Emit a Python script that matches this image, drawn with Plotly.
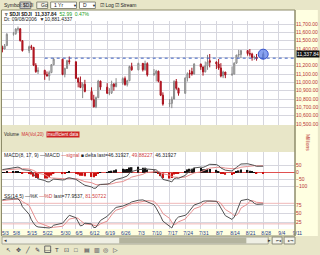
import plotly.graph_objects as go
from plotly.subplots import make_subplots

# ---------------- data ----------------
dates = [
    '2006-05-03', '2006-05-04', '2006-05-05',
    '2006-05-08', '2006-05-09', '2006-05-10', '2006-05-11', '2006-05-12',
    '2006-05-15', '2006-05-16', '2006-05-17', '2006-05-18', '2006-05-19',
    '2006-05-22', '2006-05-23', '2006-05-24', '2006-05-25', '2006-05-26',
    '2006-05-30', '2006-05-31', '2006-06-01', '2006-06-02',
    '2006-06-05', '2006-06-06', '2006-06-07', '2006-06-08', '2006-06-09',
    '2006-06-12', '2006-06-13', '2006-06-14', '2006-06-15', '2006-06-16',
    '2006-06-19', '2006-06-20', '2006-06-21', '2006-06-22', '2006-06-23',
    '2006-06-26', '2006-06-27', '2006-06-28', '2006-06-29', '2006-06-30',
    '2006-07-03', '2006-07-05', '2006-07-06', '2006-07-07',
    '2006-07-10', '2006-07-11', '2006-07-12', '2006-07-13', '2006-07-14',
    '2006-07-17', '2006-07-18', '2006-07-19', '2006-07-20', '2006-07-21',
    '2006-07-24', '2006-07-25', '2006-07-26', '2006-07-27', '2006-07-28',
    '2006-07-31', '2006-08-01', '2006-08-02', '2006-08-03', '2006-08-04',
    '2006-08-07', '2006-08-08', '2006-08-09', '2006-08-10', '2006-08-11',
    '2006-08-14', '2006-08-15', '2006-08-16', '2006-08-17', '2006-08-18',
    '2006-08-21', '2006-08-22', '2006-08-23', '2006-08-24', '2006-08-25',
    '2006-08-28']

opens = [11416, 11400, 11440, 11577, 11584, 11640, 11642, 11500, 11380, 11428,
         11419, 11205, 11128, 11144, 11094, 11076, 11117, 11211, 11278, 11094,
         11168, 11260, 11247, 11048, 11002, 10939, 10977, 10891, 10792, 10706,
         10816, 11015, 10942, 10869, 10874, 10979, 10949, 10990, 11045, 10973,
         11019, 11190, 11150, 11228, 11151, 11225, 11090, 11103, 11134, 11013,
         10846, 10739, 10747, 10799, 11011, 10928, 10868, 11051, 11110, 11130,
         11100, 11219, 11185, 11125, 11199, 11260, 11245, 11220, 11173, 11076,
         11124, 11088, 11098, 11230, 11327, 11334, 11381, 11345, 11339, 11297,
         11304, 11284]
highs = [11440, 11460, 11590, 11605, 11650, 11670, 11650, 11505, 11440, 11450,
         11425, 11230, 11180, 11150, 11130, 11140, 11220, 11290, 11280, 11175,
         11270, 11310, 11250, 11060, 11070, 11000, 11030, 10940, 10850, 10830,
         11030, 11020, 10990, 10930, 11020, 10990, 11050, 11060, 11070, 11030,
         11200, 11235, 11235, 11230, 11260, 11240, 11160, 11150, 11140, 11015,
         10880, 10800, 10830, 11025, 11040, 10935, 11060, 11120, 11150, 11175,
         11230, 11225, 11190, 11250, 11330, 11340, 11250, 11280, 11230, 11140,
         11125, 11190, 11240, 11330, 11390, 11385, 11385, 11400, 11355, 11320,
         11340, 11360]
lows = [11360, 11395, 11440, 11560, 11570, 11610, 11490, 11370, 11350, 11390,
        11195, 11115, 11100, 11030, 11070, 11020, 11110, 11205, 11085, 11060,
        11160, 11215, 11040, 10940, 10930, 10810, 10880, 10785, 10700, 10690,
        10810, 10910, 10860, 10845, 10860, 10900, 10940, 10970, 10960, 10950,
        11015, 11140, 11145, 11130, 11140, 11070, 11080, 11010, 11000, 10835,
        10720, 10700, 10690, 10795, 10910, 10840, 10865, 11010, 11050, 11080,
        11095, 11150, 11080, 11120, 11150, 11180, 11160, 11150, 11060, 11050,
        11050, 11080, 11098, 11225, 11300, 11290, 11320, 11310, 11260, 11270,
        11260, 11275]
closes = [11400, 11438, 11577, 11584, 11640, 11642, 11500, 11380, 11428, 11419,
          11205, 11128, 11144, 11094, 11076, 11117, 11211, 11278, 11094, 11168,
          11260, 11247, 11048, 11002, 10939, 10977, 10891, 10792, 10706, 10816,
          11015, 10942, 10869, 10874, 10979, 10949, 10990, 11045, 10973, 11019,
          11190, 11150, 11228, 11151, 11225, 11090, 11103, 11134, 11013, 10846,
          10739, 10747, 10799, 11011, 10928, 10868, 11051, 11103, 11102, 11100,
          11219, 11185, 11125, 11199, 11242, 11240, 11220, 11173, 11076, 11124,
          11088, 11098, 11230, 11327, 11334, 11381, 11345, 11339, 11297, 11304,
          11284, 11337.84]

macd = [22, 24, 30, 33, 38, 40, 34, 22, 16, 10,
        -12, -32, -44, -56, -65, -66, -58, -46, -52, -50,
        -40, -36, -48, -60, -74, -80, -90, -102, -112, -110,
        -90, -84, -82, -78, -66, -58, -48, -36, -32, -24,
        -4, 8, 22, 24, 32, 26, 22, 20, 6, -22,
        -48, -60, -66, -44, -38, -40, -20, -2, 10, 18,
        34, 40, 38, 44, 54, 60, 58, 50, 34, 28,
        18, 12, 22, 38, 50, 62, 64, 62, 56, 52,
        46, 46.32]
signal = [18.8, 19.8, 21.9, 24.1, 26.9, 29.5, 30.4, 28.7, 26.2, 22.9,
          16.0, 6.4, -3.7, -14.2, -24.3, -32.7, -37.7, -39.4, -41.9, -43.5,
          -42.8, -41.5, -42.8, -46.2, -51.8, -57.4, -63.9, -71.5, -79.6, -85.7,
          -86.6, -86.1, -85.3, -83.8, -80.2, -75.8, -70.3, -63.4, -57.1, -50.5,
          -41.2, -31.4, -20.7, -11.8, -3.0, 2.8, 6.6, 9.3, 8.6, 2.5,
          -7.6, -18.1, -27.7, -31.0, -32.4, -33.9, -31.1, -25.3, -18.2, -11.0,
          -2.0, 6.4, 12.7, 19.0, 26.0, 32.8, 37.8, 40.3, 39.0, 36.8,
          33.0, 28.8, 27.5, 29.6, 33.7, 39.3, 44.3, 47.8, 49.5, 50.0,
          49.2, 49.88]
delta = [3.2, 4.2, 8.1, 8.9, 11.1, 10.5, 3.6, -6.7, -10.2, -12.9,
         -28.0, -38.4, -40.3, -41.8, -40.7, -33.3, -20.3, -6.6, -10.1, -6.5,
         2.8, 5.5, -5.2, -13.8, -22.2, -22.6, -26.1, -30.5, -32.4, -24.3,
         -3.4, 2.1, 3.3, 5.8, 14.2, 17.8, 22.3, 27.4, 25.1, 26.5,
         37.2, 39.4, 42.7, 35.8, 35.0, 23.2, 15.4, 10.7, -2.6, -24.5,
         -40.4, -41.9, -38.3, -13.0, -5.6, -6.1, 11.1, 23.3, 28.2, 29.0,
         36.0, 33.6, 25.3, 25.0, 28.0, 27.2, 20.2, 9.7, -5.0, -8.8,
         -15.0, -16.8, -5.5, 8.4, 16.3, 22.7, 19.7, 14.2, 6.5, 2.0,
         -3.2, -3.56]

stoch_k = [90, 91, 93, 93, 94, 93, 86, 70, 48, 32,
           22, 14, 11, 10, 8, 8, 10, 16, 22, 30,
           38, 45, 38, 24, 14, 16, 22, 20, 9, 10,
           22, 30, 42, 50, 55, 62, 68, 72, 74, 76,
           80, 84, 89, 90, 87, 84, 76, 66, 56, 42,
           28, 12, 8, 22, 34, 40, 45, 50, 58, 66,
           75, 82, 86, 87, 87, 88, 86, 78, 66, 55,
           44, 33, 40, 55, 72, 88, 92, 90, 86, 80,
           77, 77.95]
stoch_d = [88, 89, 90, 91, 92, 93, 91, 85, 74, 60,
           46, 34, 24, 16, 12, 10, 9, 10, 13, 19,
           26, 34, 38, 36, 30, 24, 20, 18, 16, 14,
           15, 20, 28, 38, 46, 54, 60, 66, 70, 73,
           76, 79, 83, 86, 88, 88, 86, 80, 72, 62,
           50, 36, 24, 18, 20, 26, 34, 42, 48, 56,
           64, 71, 78, 83, 86, 87, 87, 85, 80, 72,
           62, 50, 44, 45, 52, 66, 78, 86, 88, 86,
           83, 81.51]

tick_dates = ['2006-05-03', '2006-05-08', '2006-05-15', '2006-05-22', '2006-05-30',
              '2006-06-05', '2006-06-12', '2006-06-19', '2006-06-26', '2006-07-03',
              '2006-07-10', '2006-07-17', '2006-07-24', '2006-07-31', '2006-08-07',
              '2006-08-14', '2006-08-21', '2006-08-28', '2006-09-04', '2006-09-11']
tick_labels = ['5/3', '5/8', '5/15', '5/22', '5/30', '6/5', '6/12', '6/19', '6/26', '7/3',
               '7/10', '7/17', '7/24', '7/31', '8/7', '8/14', '8/21', '8/28', '9/4', '9/11']

price_ticks = [10500, 10600, 10700, 10800, 10900, 11000, 11100, 11200, 11300,
               11400, 11500, 11600, 11700]
price_tick_labels = ['10,500.00', '10,600.00', '10,700.00', '10,800.00', '10,900.00',
                     '11,000.00', '11,100.00', '11,200.00', '', '11,400.00', '11,500.00',
                     '11,600.00', '11,700.00']
ref_level = 11290
ref_start = '2006-05-22'
ref_end = '2006-09-11'
volume_ticks = [0, 2.5]
macd_ticks = [-100, -50, 0, 50]
stoch_ticks = [25, 50, 75]
stoch_levels = [80, 20]

# ---------------- layout helpers ----------------
W, H = 320, 255
ML, MR, MT, MB = 2, 23, 21, 26
PW, PH = W - ML - MR, H - MT - MB


def px(x):
    return (x - ML) / PW


def py(y):
    return (H - MB - y) / PH


FONT = 'Liberation Sans'
AXIS_RED = '#b83232'

fig = make_subplots(rows=4, cols=1, shared_xaxes=True, vertical_spacing=0,
                    row_heights=[104, 27, 39, 38])

fig.add_trace(go.Candlestick(
    x=dates, open=opens, high=highs, low=lows, close=closes,
    increasing=dict(line=dict(color='#8a8a8a', width=1), fillcolor='#dcdcdc'),
    decreasing=dict(line=dict(color='#a8101c', width=1), fillcolor='#d0202c'),
    whiskerwidth=0, hoverinfo='skip', showlegend=False), row=1, col=1)

fig.add_trace(go.Scatter(
    x=[ref_start, ref_end], y=[ref_level, ref_level], mode='lines',
    line=dict(color='#3a5fc0', width=1, dash='dot'), hoverinfo='skip',
    showlegend=False), row=1, col=1)

fig.add_trace(go.Scatter(
    x=[dates[-1]], y=[closes[-1]], mode='markers',
    marker=dict(symbol='circle', size=10, color='rgba(70,110,230,0.65)',
                line=dict(color='rgba(40,70,200,0.9)', width=1)),
    hoverinfo='skip', showlegend=False), row=1, col=1)

fig.add_trace(go.Bar(
    x=dates, y=delta,
    marker=dict(color=['#111111' if v >= 0 else '#cc1010' for v in delta], line=dict(width=0)),
    hoverinfo='skip', showlegend=False), row=3, col=1)
fig.add_trace(go.Scatter(x=dates, y=signal, mode='lines',
                         line=dict(color='#e89090', width=1), hoverinfo='skip',
                         showlegend=False), row=3, col=1)
fig.add_trace(go.Scatter(x=dates, y=macd, mode='lines',
                         line=dict(color='#505050', width=1), hoverinfo='skip',
                         showlegend=False), row=3, col=1)

for lvl in stoch_levels:
    fig.add_trace(go.Scatter(x=[tick_dates[0], tick_dates[-1]], y=[lvl, lvl], mode='lines',
                             line=dict(color='#f0b8b8', width=1), hoverinfo='skip',
                             showlegend=False), row=4, col=1)
fig.add_trace(go.Scatter(x=dates, y=stoch_d, mode='lines',
                         line=dict(color='#e89090', width=1), hoverinfo='skip',
                         showlegend=False), row=4, col=1)
fig.add_trace(go.Scatter(x=dates, y=stoch_k, mode='lines',
                         line=dict(color='#505050', width=1), hoverinfo='skip',
                         showlegend=False), row=4, col=1)

xr = ['2006-05-02 20:00', '2006-09-11 06:00']
fig.update_xaxes(type='date', range=xr, tickvals=tick_dates, ticktext=tick_labels,
                 showgrid=True, gridcolor='#d6d6de', gridwidth=1, zeroline=False,
                 showline=False, ticks='', rangeslider=dict(visible=False),
                 tickfont=dict(family=FONT, size=5, color='#1c3c8c'),
                 ticklabelshift=3, ticklabelstandoff=0)
fig.update_yaxes(side='right', showgrid=True, gridcolor='#d6d6de', gridwidth=1,
                 ticks='', showline=False,
                 tickfont=dict(family=FONT, size=5, color=AXIS_RED))
fig.update_yaxes(range=[10488, 11736], tickvals=price_ticks, ticktext=price_tick_labels,
                 zeroline=False, row=1, col=1)
fig.update_yaxes(range=[0, 5.6], tickvals=volume_ticks, ticktext=['0', '2.5'],
                 zeroline=False, row=2, col=1)
fig.update_yaxes(range=[-131, 148], tickvals=macd_ticks, zeroline=True,
                 zerolinecolor='#e05050', zerolinewidth=1, row=3, col=1)
fig.update_yaxes(range=[5, 116], tickvals=stoch_ticks, zeroline=False, row=4, col=1)

shapes = []
# white header strip inside chart box
shapes.append(dict(type='rect', xref='paper', yref='paper', x0=px(2), x1=px(297),
                   y0=py(21), y1=py(10), fillcolor='white', line=dict(width=0), layer='below'))
# light yellow axis panel and date band
shapes.append(dict(type='rect', xref='paper', yref='paper', x0=px(297), x1=px(320),
                   y0=py(236), y1=py(10), fillcolor='#ffffe1', line=dict(width=0), layer='below'))
shapes.append(dict(type='rect', xref='paper', yref='paper', x0=px(2), x1=px(297),
                   y0=py(236), y1=py(229), fillcolor='#ffffe1', line=dict(width=0), layer='below'))
# frame
shapes.append(dict(type='rect', xref='paper', yref='paper', x0=px(1.5), x1=px(297),
                   y0=py(236), y1=py(10), line=dict(color='#8e8c6a', width=1)))
shapes.append(dict(type='line', xref='paper', yref='paper', x0=px(297), x1=px(297),
                   y0=py(236), y1=py(10), line=dict(color='#8e8c6a', width=1)))
# scrollbar
shapes.append(dict(type='rect', xref='paper', yref='paper', x0=px(2), x1=px(270),
                   y0=py(244), y1=py(237), fillcolor='#efefe4', line=dict(color='#a8a898', width=1)))
shapes.append(dict(type='rect', xref='paper', yref='paper', x0=px(120), x1=px(248),
                   y0=py(243.5), y1=py(237.5), fillcolor='#b4b49e', line=dict(width=0)))
shapes.append(dict(type='rect', xref='paper', yref='paper', x0=px(274), x1=px(284),
                   y0=py(244), y1=py(237), fillcolor='#f4f4ec', line=dict(color='#8a8a7a', width=1)))
shapes.append(dict(type='rect', xref='paper', yref='paper', x0=px(286), x1=px(297),
                   y0=py(244), y1=py(237), fillcolor='#f4f4ec', line=dict(color='#8a8a7a', width=1)))
# top toolbar widgets
shapes.append(dict(type='rect', xref='paper', yref='paper', x0=px(20), x1=px(31),
                   y0=py(8.5), y1=py(2), fillcolor='#c9c9c9', line=dict(color='#7f7f7f', width=1)))
shapes.append(dict(type='rect', xref='paper', yref='paper', x0=px(37), x1=px(48),
                   y0=py(8.5), y1=py(2), fillcolor='#f2f1e8', line=dict(color='#8a8a7a', width=1)))
shapes.append(dict(type='rect', xref='paper', yref='paper', x0=px(51), x1=px(77),
                   y0=py(8.5), y1=py(2), fillcolor='white', line=dict(color='#8a8a7a', width=1)))
shapes.append(dict(type='rect', xref='paper', yref='paper', x0=px(80), x1=px(96),
                   y0=py(8.5), y1=py(2), fillcolor='white', line=dict(color='#8a8a7a', width=1)))
shapes.append(dict(type='rect', xref='paper', yref='paper', x0=px(45), x1=px(51),
                   y0=py(252.5), y1=py(246), fillcolor='rgba(0,0,0,0)', line=dict(color='#6a6a6a', width=1)))

annotations = []


def note(x, y, text, size=5, color='#222222', **kw):
    annotations.append(dict(xref='paper', yref='paper', x=px(x), y=py(y), text=text,
                            showarrow=False, xanchor='left', yanchor='middle',
                            font=dict(family=FONT, size=size, color=color), **kw))


note(2.5, 5.3, 'Symbol:')
note(21, 5.3, '$DJI', color='#222222')
note(39.5, 5.3, 'Go')
note(52.5, 5.3, '1 Yr')
note(71, 5.3, '▼', size=4)
note(81.5, 5.3, 'D')
note(90.5, 5.3, '▼', size=4)
note(99, 5.3, '☑ Log')
note(114, 5.3, '☑ Stream')

note(2.5, 13.5, "<b>▿ $DJI $DJI  11,337.84</b>  <span style='color:#1aa01a'>52.99  0.47%</span>")
note(2.5, 19.2, 'Dt: 09/08/2006  ▼10,881.4337')

note(2.5, 134, "Volume  <span style='color:#d03030'>MA(Vol,20)</span>", size=4.5)
note(46, 134, 'insufficient data', size=4.5, color='white', bgcolor='#cc2222', borderpad=0)
note(2.5, 155, "MACD(8, 17, 9) —MACD <span style='color:#d04040'>—signal</span> ■ delta "
               "last=46.31927, <span style='color:#d04040'>49.88227,</span> 46.31927")
note(2.5, 195.5, "SS(14,5) —%K <span style='color:#d04040'>—%D</span> last=77.9537, "
                 "<span style='color:#d04040'>81.50722</span>")

annotations.append(dict(xref='paper', yref='y', x=1, y=closes[-1], text='11,337.84',
                        showarrow=False, xanchor='left', yanchor='middle', xshift=1,
                        bgcolor='#111111', borderpad=0,
                        font=dict(family=FONT, size=5, color='white')))
note(305, 143, 'Millions', color=AXIS_RED, textangle=90)

note(2.5, 240.5, '◂', size=5, color='#333333')
note(268, 240.5, '▸', size=5, color='#333333')
note(275.5, 240.5, '⇤◂', size=4, color='#333333')
note(287.5, 240.5, '▸⇥', size=4, color='#333333')

icons = ['↖', '✥', '╱', '✎', '—', 'T', '⊡', '□', '▤', '▥', '◎', '▷']
for i, ic in enumerate(icons):
    note(4 + i * 9.8, 249.5, ic, size=6, color='#333344')

fig.update_layout(
    width=W, height=H, margin=dict(l=ML, r=MR, t=MT, b=MB),
    paper_bgcolor='#e8e6c8', plot_bgcolor='white',
    showlegend=False, bargap=0.35,
    shapes=shapes, annotations=annotations,
    font=dict(family=FONT, size=5))

fig.write_html('out.html')
